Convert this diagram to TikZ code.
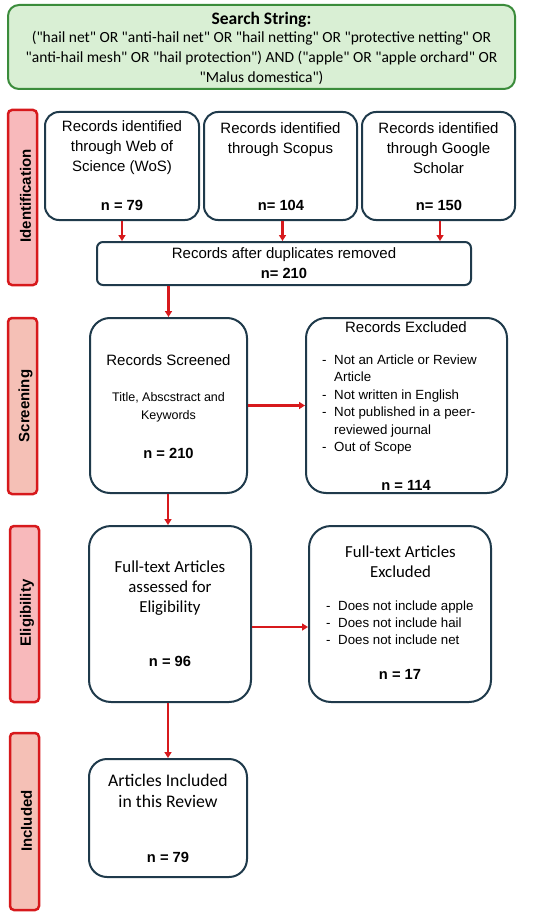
\documentclass[tikz,border=0pt]{standalone}
\usepackage{fontspec}
\setmainfont{Liberation Sans}
\newfontfamily\fcal{Carlito}
\newfontfamily\fari{Liberation Sans}
\usetikzlibrary{arrows.meta}
\definecolor{boxline}{HTML}{1F3A4B}
\definecolor{arrred}{HTML}{D7191C}
\definecolor{labpink}{HTML}{F8B9BB}
\definecolor{labsalmon}{HTML}{F5C0B6}
\definecolor{srchfill}{HTML}{D9EFD4}
\definecolor{srchline}{HTML}{3B8C3B}
\tikzset{
  box/.style={draw=boxline, line width=2pt, fill=white, inner sep=0pt},
  lab/.style={draw=arrred, line width=2.5pt, rounded corners=4pt, inner sep=0pt},
  labtext/.style={rotate=90, font=\fari\bfseries\fontsize{15}{18}\selectfont, inner sep=0pt},
  txt/.style={align=center, inner sep=0pt, font=\fari\fontsize{15}{20}\selectfont},
  ctxt/.style={align=center, inner sep=0pt, font=\fcal\fontsize{16.8}{20}\selectfont},
  ntxt/.style={inner sep=0pt, font=\fari\bfseries\fontsize{14.7}{18}\selectfont},
  btxt/.style={align=left, inner sep=0pt, anchor=west},
  arr/.style={draw=arrred, line width=2.2pt, -{Triangle[length=6pt,width=7pt]}}
}
\newcommand{\bl}[1]{\makebox[12pt][l]{-}#1}
\newcommand{\bc}[1]{\hspace*{12pt}#1}
\begin{document}
\begin{tikzpicture}[x=1pt,y=-1pt]
\useasboundingbox (0,0) rectangle (550,920);
% search string
\node[draw=srchline, line width=2pt, fill=srchfill, rounded corners=11pt, minimum width=507pt, minimum height=84pt, inner sep=0pt] (search) at (261.5,47) {};
\node[inner sep=0pt, font=\fcal\bfseries\fontsize{17.5}{20}\selectfont] (stitle) at (261.5,20) {Search String:};
\node[align=center, inner sep=0pt, font=\fcal\fontsize{15.5}{20}\selectfont] (sbody) at (261.5,58) {("hail net" OR "anti-hail net" OR "hail netting" OR "protective netting" OR\\ "anti-hail mesh" OR "hail protection") AND ("apple" OR "apple orchard" OR\\ "Malus domestica")};
% stage labels
\node[lab, fill=labpink, minimum width=29pt, minimum height=175pt] (lident) at (22.5,197.5) {};
\node[labtext] (tident) at (25.5,196) {Identification};
\node[lab, fill=labsalmon, minimum width=29pt, minimum height=176pt] (lscreen) at (22.5,406) {};
\node[labtext] (tscreen) at (25.5,406) {Screening};
\node[lab, fill=labpink, minimum width=29pt, minimum height=176pt] (lelig) at (24.5,614) {};
\node[labtext] (telig) at (27,613) {Eligibility};
\node[lab, fill=labsalmon, minimum width=29pt, minimum height=177pt] (lincl) at (24.5,821.5) {};
\node[labtext] (tincl) at (26.5,821) {Included};
% identification boxes
\node[box, rounded corners=14pt, minimum width=154pt, minimum height=108pt] (wos) at (122,166) {};
\node[txt] (twos) at (122,148) {Records identified\\through Web of\\Science (WoS)};
\node[ntxt] (nwos) at (122,205) {n = 79};
\node[box, rounded corners=14pt, minimum width=153pt, minimum height=108pt] (scopus) at (280.5,166) {};
\node[txt] (tscopus) at (280.5,140) {Records identified\\through Scopus};
\node[ntxt] (nscopus) at (281,205) {n= 104};
\node[box, rounded corners=14pt, minimum width=153pt, minimum height=108pt] (gs) at (438.5,166) {};
\node[txt] (tgs) at (438.5,148) {Records identified\\through Google\\Scholar};
\node[ntxt] (ngs) at (439,205) {n= 150};
% duplicates
\node[box, rounded corners=6pt, minimum width=374pt, minimum height=43pt] (dup) at (284,263.5) {};
\node[txt] (tdup) at (284,255) {Records after duplicates removed};
\node[ntxt] (ndup) at (284,273.5) {n= 210};
% screening
\node[box, rounded corners=20pt, minimum width=157pt, minimum height=175pt] (scr) at (168.5,405.5) {};
\node[txt] (tscr) at (168.5,360) {Records Screened};
\node[align=center, inner sep=0pt, font=\fari\fontsize{12.5}{18}\selectfont] (tscr2) at (168.5,407) {Title, Abscstract and\\Keywords};
\node[ntxt] (nscr) at (168.5,453) {n = 210};
\node[box, rounded corners=20pt, minimum width=201pt, minimum height=175pt] (exc) at (406.5,405.5) {};
\node[txt] (texc) at (406,327) {Records Excluded};
\node[btxt, font=\fari\fontsize{13.3}{17.4}\selectfont] (bexc) at (322,404.5) {\bl{Not an Article or Review}\\\bc{Article}\\\bl{Not written in English}\\\bl{Not published in a peer-}\\\bc{reviewed journal}\\\bl{Out of Scope}};
\node[ntxt] (nexc) at (406,485) {n = 114};
% eligibility
\node[box, rounded corners=22pt, minimum width=162pt, minimum height=176pt] (ft) at (170,614) {};
\node[ctxt] (tft) at (170,588) {Full-text Articles\\assessed for\\Eligibility};
\node[ntxt] (nft) at (170,661) {n = 96};
\node[box, rounded corners=22pt, minimum width=182pt, minimum height=176pt] (exc2) at (400,614) {};
\node[ctxt] (texc2) at (400.5,562) {Full-text Articles\\Excluded};
\node[btxt, font=\fari\fontsize{13.3}{17}\selectfont] (bexc2) at (326,623) {\bl{Does not include apple}\\\bl{Does not include hail}\\\bl{Does not include net}};
\node[ntxt] (nexc2) at (400,674) {n = 17};
% included
\node[box, rounded corners=18pt, minimum width=158pt, minimum height=118pt] (inc) at (168,818) {};
\node[ctxt, font=\fcal\fontsize{17.7}{21}\selectfont] (tinc) at (168,790.5) {Articles Included\\in this Review};
\node[ntxt] (ninc) at (168,857) {n = 79};
% connectors
\draw[arr] (wos.south) -- (wos.south |- dup.north);
\draw[arr] ([xshift=2pt]scopus.south) -- ([xshift=2pt]scopus.south |- dup.north);
\draw[arr] ([xshift=1.5pt]gs.south) -- ([xshift=1.5pt]gs.south |- dup.north);
\draw[arr] (scr.north |- dup.south) -- (scr.north);
\draw[arr] (scr.east) -- (scr.east -| exc.west);
\draw[arr] (inc.north |- scr.south) -- (inc.north |- ft.north);
\draw[arr] ([yshift=-13pt]ft.east) -- ([yshift=-13pt]ft.east -| exc2.west);
\draw[arr] (inc.north |- ft.south) -- (inc.north);
\end{tikzpicture}
\end{document}
